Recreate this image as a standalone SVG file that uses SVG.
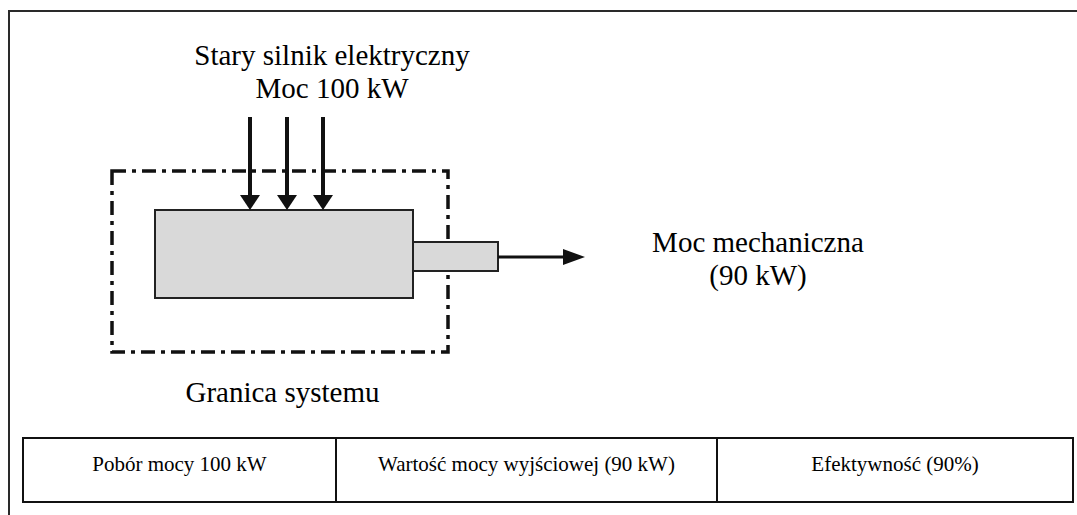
<svg xmlns="http://www.w3.org/2000/svg" width="1077" height="515" viewBox="0 0 1077 515">
<style>
  .t { font-family: "Liberation Serif", Tinos, "Times New Roman", Times, "DejaVu Serif", serif; fill: #000; }
  .big { font-size: 29px; }
  .cell { font-size: 21px; }
  .frame { fill: none; stroke: #2a2a2a; stroke-width: 2; }
  .tbl { fill: none; stroke: #111; stroke-width: 2; }
  .body { fill: #d9d9d9; stroke: #222; stroke-width: 2; }
  .boundary { fill: none; stroke: #111; stroke-width: 3.5; stroke-dasharray: 14 6 4 6; }
  .arr { fill: none; stroke: #111; }
</style>
<defs>
  <marker id="headDown" markerUnits="userSpaceOnUse" markerWidth="15" markerHeight="20" refX="5" refY="10" orient="auto">
    <path d="M0,0 L15,10 L0,20 z" fill="#111"/>
  </marker>
  <marker id="headRight" markerUnits="userSpaceOnUse" markerWidth="22" markerHeight="16" refX="10" refY="8" orient="auto">
    <path d="M0,0 L22,8 L0,16 z" fill="#111"/>
  </marker>
</defs>
<rect width="1077" height="515" fill="#fff"/>
<g id="frame">
  <path class="frame" d="M9,515 L9,11 L1077,11"/>
</g>
<g id="boundary">
  <rect class="boundary" x="112" y="171" width="336" height="181"/>
  <text class="t big" x="282.5" y="402" text-anchor="middle" font-family="Liberation Serif, serif">Granica systemu</text>
</g>
<g id="motor">
  <rect class="body" x="155" y="210" width="258" height="88"/>
</g>
<g id="shaft">
  <rect class="body" x="413" y="242" width="85" height="29"/>
</g>
<g id="input-label">
  <text class="t big" x="332" y="65" text-anchor="middle">Stary silnik elektryczny</text>
  <text class="t big" x="332" y="98" text-anchor="middle">Moc 100 kW</text>
</g>
<g id="output-label">
  <text class="t big" x="758" y="252" text-anchor="middle">Moc mechaniczna</text>
  <text class="t big" x="758" y="285" text-anchor="middle">(90 kW)</text>
</g>
<g id="connectors">
  <line class="arr" x1="250" y1="117" x2="250" y2="200" stroke-width="4" marker-end="url(#headDown)"/>
  <line class="arr" x1="287" y1="117" x2="287" y2="200" stroke-width="4" marker-end="url(#headDown)"/>
  <line class="arr" x1="323" y1="117" x2="323" y2="200" stroke-width="4" marker-end="url(#headDown)"/>
  <line class="arr" x1="498" y1="257" x2="573" y2="257" stroke-width="3" marker-end="url(#headRight)"/>
</g>
<g id="table">
  <rect class="tbl" x="23" y="438" width="1050" height="64"/>
  <line class="tbl" x1="336" y1="438" x2="336" y2="502"/>
  <line class="tbl" x1="717" y1="438" x2="717" y2="502"/>
  <text class="t cell" x="179.5" y="471" text-anchor="middle">Pobór mocy 100 kW</text>
  <text class="t cell" x="526.5" y="471" text-anchor="middle">Wartość mocy wyjściowej (90 kW)</text>
  <text class="t cell" x="895" y="471" text-anchor="middle">Efektywność (90%)</text>
</g>
</svg>
